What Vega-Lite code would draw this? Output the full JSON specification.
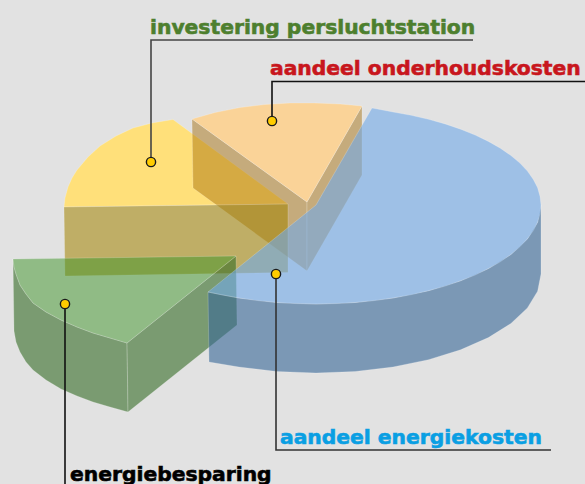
{"$schema":"https://vega.github.io/schema/vega-lite/v6.json","width":585,"height":484,"padding":0,"autosize":{"type":"fit","contains":"padding"},"background":"#e2e2e2","view":{"stroke":null},
"datasets":{"vlakken":[
{"f":"geel boven","n":0,"x":64,"y":207},{"f":"geel boven","n":1,"x":65,"y":198},{"f":"geel boven","n":2,"x":68,"y":187},{"f":"geel boven","n":3,"x":72,"y":178},{"f":"geel boven","n":4,"x":77,"y":170},{"f":"geel boven","n":5,"x":88,"y":157},{"f":"geel boven","n":6,"x":100,"y":146},{"f":"geel boven","n":7,"x":116,"y":136},{"f":"geel boven","n":8,"x":133,"y":128},{"f":"geel boven","n":9,"x":152,"y":123},{"f":"geel boven","n":10,"x":173,"y":119.5},{"f":"geel boven","n":11,"x":288,"y":204},{"f":"geel boven","n":12,"x":64,"y":207},
{"f":"oranje links","n":0,"x":192,"y":119},{"f":"oranje links","n":1,"x":307,"y":202},{"f":"oranje links","n":2,"x":307,"y":271},{"f":"oranje links","n":3,"x":193,"y":188},{"f":"oranje links","n":4,"x":192,"y":119},
{"f":"oranje rechts","n":0,"x":362,"y":106},{"f":"oranje rechts","n":1,"x":307,"y":202},{"f":"oranje rechts","n":2,"x":307,"y":271},{"f":"oranje rechts","n":3,"x":362,"y":175},{"f":"oranje rechts","n":4,"x":362,"y":106},
{"f":"geel zijkant","n":0,"x":64,"y":207},{"f":"geel zijkant","n":1,"x":288,"y":204},{"f":"geel zijkant","n":2,"x":288,"y":272.5},{"f":"geel zijkant","n":3,"x":65,"y":276},{"f":"geel zijkant","n":4,"x":64,"y":207},
{"f":"oranje boven","n":0,"x":192,"y":119},{"f":"oranje boven","n":1,"x":215,"y":112.5},{"f":"oranje boven","n":2,"x":240,"y":107.5},{"f":"oranje boven","n":3,"x":265,"y":104.5},{"f":"oranje boven","n":4,"x":290,"y":103},{"f":"oranje boven","n":5,"x":315,"y":103},{"f":"oranje boven","n":6,"x":340,"y":104},{"f":"oranje boven","n":7,"x":362,"y":106},{"f":"oranje boven","n":8,"x":307,"y":202},{"f":"oranje boven","n":9,"x":192,"y":119},
{"f":"groen boog","n":0,"x":13,"y":259},{"f":"groen boog","n":1,"x":14,"y":267},{"f":"groen boog","n":2,"x":16,"y":274},{"f":"groen boog","n":3,"x":20,"y":285},{"f":"groen boog","n":4,"x":26,"y":294},{"f":"groen boog","n":5,"x":33,"y":303},{"f":"groen boog","n":6,"x":46,"y":312},{"f":"groen boog","n":7,"x":61,"y":320},{"f":"groen boog","n":8,"x":77,"y":327},{"f":"groen boog","n":9,"x":93,"y":333},{"f":"groen boog","n":10,"x":110,"y":338},{"f":"groen boog","n":11,"x":127,"y":343},{"f":"groen boog","n":12,"x":128,"y":412},{"f":"groen boog","n":13,"x":110,"y":407},{"f":"groen boog","n":14,"x":93,"y":402},{"f":"groen boog","n":15,"x":77,"y":396},{"f":"groen boog","n":16,"x":61,"y":389},{"f":"groen boog","n":17,"x":46,"y":380},{"f":"groen boog","n":18,"x":33,"y":370},{"f":"groen boog","n":19,"x":26,"y":362},{"f":"groen boog","n":20,"x":20,"y":352},{"f":"groen boog","n":21,"x":16,"y":342},{"f":"groen boog","n":22,"x":14,"y":331},{"f":"groen boog","n":23,"x":13,"y":259},
{"f":"groen recht","n":0,"x":127,"y":343},{"f":"groen recht","n":1,"x":236,"y":256},{"f":"groen recht","n":2,"x":237,"y":325},{"f":"groen recht","n":3,"x":128,"y":412},{"f":"groen recht","n":4,"x":127,"y":343},
{"f":"groen boven","n":0,"x":13,"y":259},{"f":"groen boven","n":1,"x":14,"y":267},{"f":"groen boven","n":2,"x":16,"y":274},{"f":"groen boven","n":3,"x":20,"y":285},{"f":"groen boven","n":4,"x":26,"y":294},{"f":"groen boven","n":5,"x":33,"y":303},{"f":"groen boven","n":6,"x":46,"y":312},{"f":"groen boven","n":7,"x":61,"y":320},{"f":"groen boven","n":8,"x":77,"y":327},{"f":"groen boven","n":9,"x":93,"y":333},{"f":"groen boven","n":10,"x":110,"y":338},{"f":"groen boven","n":11,"x":127,"y":343},{"f":"groen boven","n":12,"x":236,"y":256},{"f":"groen boven","n":13,"x":13,"y":259},
{"f":"blauw zijkant","n":0,"x":541,"y":205},{"f":"blauw zijkant","n":1,"x":537.6,"y":222.2},{"f":"blauw zijkant","n":2,"x":527.4,"y":238.9},{"f":"blauw zijkant","n":3,"x":510.9,"y":254.5},{"f":"blauw zijkant","n":4,"x":488.4,"y":268.6},{"f":"blauw zijkant","n":5,"x":460.6,"y":280.8},{"f":"blauw zijkant","n":6,"x":428.5,"y":290.7},{"f":"blauw zijkant","n":7,"x":393,"y":298},{"f":"blauw zijkant","n":8,"x":355.1,"y":302.5},{"f":"blauw zijkant","n":9,"x":316,"y":304},{"f":"blauw zijkant","n":10,"x":276.9,"y":302.5},{"f":"blauw zijkant","n":11,"x":239,"y":298},{"f":"blauw zijkant","n":12,"x":208,"y":292},{"f":"blauw zijkant","n":13,"x":209,"y":362},{"f":"blauw zijkant","n":14,"x":239,"y":367},{"f":"blauw zijkant","n":15,"x":276.9,"y":371.5},{"f":"blauw zijkant","n":16,"x":316,"y":373},{"f":"blauw zijkant","n":17,"x":355.1,"y":371.5},{"f":"blauw zijkant","n":18,"x":393,"y":367},{"f":"blauw zijkant","n":19,"x":428.5,"y":359.7},{"f":"blauw zijkant","n":20,"x":460.6,"y":349.8},{"f":"blauw zijkant","n":21,"x":488.4,"y":337.6},{"f":"blauw zijkant","n":22,"x":510.9,"y":323.5},{"f":"blauw zijkant","n":23,"x":527.4,"y":307.9},{"f":"blauw zijkant","n":24,"x":537.6,"y":291.2},{"f":"blauw zijkant","n":25,"x":541,"y":274},{"f":"blauw zijkant","n":26,"x":541,"y":205},
{"f":"blauw boven","n":0,"x":372,"y":108},{"f":"blauw boven","n":1,"x":393,"y":112},{"f":"blauw boven","n":2,"x":411.1,"y":115.3},{"f":"blauw boven","n":3,"x":428.5,"y":119.3},{"f":"blauw boven","n":4,"x":445.1,"y":123.9},{"f":"blauw boven","n":5,"x":460.6,"y":129.2},{"f":"blauw boven","n":6,"x":475.1,"y":135},{"f":"blauw boven","n":7,"x":488.4,"y":141.4},{"f":"blauw boven","n":8,"x":500.3,"y":148.2},{"f":"blauw boven","n":9,"x":510.9,"y":155.5},{"f":"blauw boven","n":10,"x":519.9,"y":163.1},{"f":"blauw boven","n":11,"x":527.4,"y":171.1},{"f":"blauw boven","n":12,"x":533.3,"y":179.4},{"f":"blauw boven","n":13,"x":537.6,"y":187.8},{"f":"blauw boven","n":14,"x":540,"y":196.4},{"f":"blauw boven","n":15,"x":541,"y":205},{"f":"blauw boven","n":16,"x":540,"y":213.6},{"f":"blauw boven","n":17,"x":537.6,"y":222.2},{"f":"blauw boven","n":18,"x":533.3,"y":230.6},{"f":"blauw boven","n":19,"x":527.4,"y":238.9},{"f":"blauw boven","n":20,"x":519.9,"y":246.8},{"f":"blauw boven","n":21,"x":510.9,"y":254.5},{"f":"blauw boven","n":22,"x":500.3,"y":261.8},{"f":"blauw boven","n":23,"x":488.4,"y":268.6},{"f":"blauw boven","n":24,"x":475.1,"y":275},{"f":"blauw boven","n":25,"x":460.6,"y":280.8},{"f":"blauw boven","n":26,"x":445.1,"y":286.1},{"f":"blauw boven","n":27,"x":428.5,"y":290.7},{"f":"blauw boven","n":28,"x":411.1,"y":294.7},{"f":"blauw boven","n":29,"x":393,"y":298},{"f":"blauw boven","n":30,"x":374.3,"y":300.6},{"f":"blauw boven","n":31,"x":355.1,"y":302.5},{"f":"blauw boven","n":32,"x":335.6,"y":303.6},{"f":"blauw boven","n":33,"x":316,"y":304},{"f":"blauw boven","n":34,"x":296.4,"y":303.6},{"f":"blauw boven","n":35,"x":276.9,"y":302.5},{"f":"blauw boven","n":36,"x":257.7,"y":300.6},{"f":"blauw boven","n":37,"x":239,"y":298},{"f":"blauw boven","n":38,"x":220.9,"y":294.7},{"f":"blauw boven","n":39,"x":208,"y":292},{"f":"blauw boven","n":40,"x":316,"y":205},{"f":"blauw boven","n":41,"x":372,"y":108}
],
"lijnen":[
{"l":"groen","n":0,"x":151,"y":162},{"l":"groen","n":1,"x":151,"y":40},{"l":"groen","n":2,"x":473,"y":40},
{"l":"rood","n":0,"x":272,"y":121},{"l":"rood","n":1,"x":272,"y":81.5},{"l":"rood","n":2,"x":585,"y":81.5},
{"l":"blauw","n":0,"x":276,"y":274},{"l":"blauw","n":1,"x":276,"y":450},{"l":"blauw","n":2,"x":551,"y":450},
{"l":"zwart","n":0,"x":65,"y":304},{"l":"zwart","n":1,"x":65,"y":484}
],
"punten":[{"x":151,"y":162},{"x":272,"y":121},{"x":276,"y":274},{"x":65,"y":304}],
"labels":[
{"t":"investering persluchtstation","x":150,"y":34,"c":"groen"},
{"t":"aandeel onderhoudskosten","x":270,"y":75,"c":"rood"},
{"t":"aandeel energiekosten","x":280,"y":444,"c":"blauw"},
{"t":"energiebesparing","x":70,"y":481,"c":"zwart"}
]},
"encoding":{
"x":{"field":"x","type":"quantitative","scale":{"domain":[0,585],"nice":false,"zero":false},"axis":null},
"y":{"field":"y","type":"quantitative","scale":{"domain":[484,0],"nice":false,"zero":false},"axis":null}
},
"resolve":{"scale":{"fill":"independent","stroke":"independent","color":"independent"}},
"layer":[
{"data":{"name":"vlakken"},"mark":{"type":"line","stroke":"#ffffff","strokeWidth":0.8,"strokeOpacity":0.25,"clip":true},
"encoding":{"detail":{"field":"f"},"order":{"field":"n","type":"quantitative"},
"fill":{"field":"f","type":"nominal","legend":null,"sort":null,"scale":{"domain":["geel boven","oranje links","oranje rechts","geel zijkant","oranje boven","groen boog","groen recht","groen boven","blauw zijkant","blauw boven"],"range":["#ffe07a","rgba(162,105,0,0.45)","rgba(162,105,0,0.45)","rgba(162,131,0,0.55)","#fad398","rgba(53,109,39,0.6)","rgba(53,109,39,0.6)","rgba(62,148,40,0.5)","rgba(55,103,152,0.6)","rgba(113,170,233,0.6)"]}}}},
{"data":{"name":"lijnen"},"mark":{"type":"line","strokeWidth":1.6,"clip":true},
"encoding":{"detail":{"field":"l"},"order":{"field":"n","type":"quantitative"},
"stroke":{"field":"l","type":"nominal","legend":null,"scale":{"domain":["groen","rood","blauw","zwart"],"range":["#454545","#111111","#333333","#111111"]}}}},
{"data":{"name":"punten"},"mark":{"type":"point","filled":true,"fill":"#ffcc00","stroke":"#1a1a1a","strokeWidth":1.4,"size":85,"opacity":1,"clip":true}},
{"data":{"name":"labels"},"mark":{"type":"text","align":"left","baseline":"alphabetic","font":"DejaVu Sans","fontWeight":"bold","fontSize":20.3,"strokeWidth":0.6,"clip":true},
"encoding":{"text":{"field":"t"},
"fill":{"field":"c","type":"nominal","legend":null,"scale":{"domain":["groen","rood","blauw","zwart"],"range":["#4d7f2e","#c8161d","#0a9fe3","#000000"]}},
"stroke":{"field":"c","type":"nominal","legend":null,"scale":{"domain":["groen","rood","blauw","zwart"],"range":["#4d7f2e","#c8161d","#0a9fe3","#000000"]}}}}
]}
